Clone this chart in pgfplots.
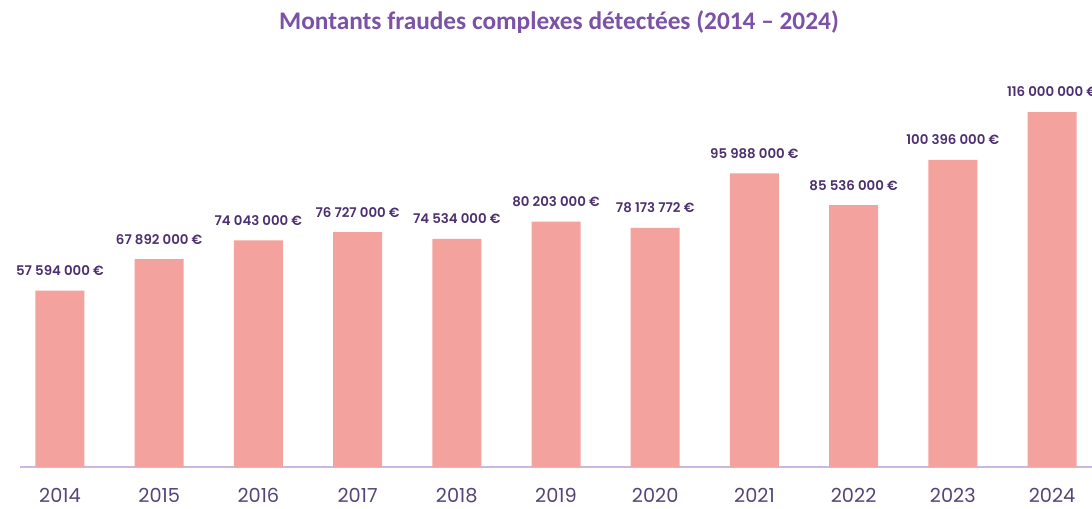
\documentclass[border=0pt]{standalone}
\usepackage{fontspec}
\setmainfont{Poppins}
\newfontfamily\valfont{Poppins SemiBold}
\newfontfamily\titlefont{Carlito}
\usepackage{pgfplots}
\pgfplotsset{compat=1.18}
\definecolor{barpink}{HTML}{F4A29D}
\definecolor{titlepurple}{HTML}{7B52A6}
\definecolor{valpurple}{HTML}{4B2F6E}
\definecolor{tickpurple}{HTML}{554477}
\definecolor{linepurple}{HTML}{C9B8E3}

\begin{document}
\begin{tikzpicture}
\useasboundingbox (0,0) rectangle (819pt,381.75pt);
\node[font=\titlefont\bfseries\fontsize{19}{22}\selectfont, text=titlepurple]
  at (419.25pt,365.25pt) {Montants fraudes complexes détectées (2014 – 2024)};
\begin{axis}[
  at={(15pt,31.5pt)}, anchor=south west,
  scale only axis, width=804pt, height=305.25pt,
  xmin=-0.403, xmax=10.403, ymin=0, ymax=133,
  axis x line*=bottom, axis y line=none,
  x axis line style={-, draw=linepurple, line width=0.8pt},
  xtick={0,...,10},
  xticklabels={2014,2015,2016,2017,2018,2019,2020,2021,2022,2023,2024},
  major tick length=0pt,
  xticklabel style={font=\fontsize{14.5}{16}\selectfont, text=tickpurple,
    anchor=north, inner sep=0pt, yshift=-16pt},
  clip=false,
  ybar, bar width=36.75pt,
  nodes near coords,
  nodes near coords style={font=\valfont\fontsize{10}{12}\selectfont,
    text=valpurple, anchor=south, inner sep=0pt, yshift=11pt},
]
\addplot[fill=barpink, draw=none, point meta=explicit symbolic] coordinates {
  (0,57.594) [57 594 000 €]
  (1,67.892) [67 892 000 €]
  (2,74.043) [74 043 000 €]
  (3,76.727) [76 727 000 €]
  (4,74.534) [74 534 000 €]
  (5,80.203) [80 203 000 €]
  (6,78.173772) [78 173 772 €]
  (7,95.988) [95 988 000 €]
  (8,85.536) [85 536 000 €]
  (9,100.396) [100 396 000 €]
  (10,116.0) [116 000 000 €]
};
\end{axis}
\end{tikzpicture}
\end{document}
